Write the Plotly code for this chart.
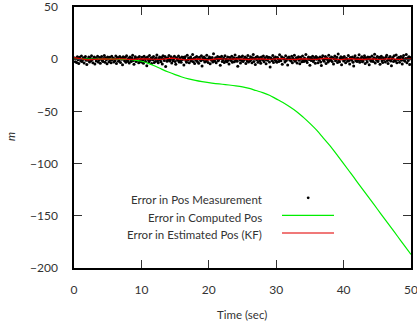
import plotly.graph_objects as go

# ---------------- data ----------------
meas_err = [
 1.2, -2.5, 0.8, -3.1, 2.4, -0.6, -4.2, 1.9, 0.3, -1.7, 3.1, -2.2, -0.4, 1.5, -3.6, 0.9, 2.7, -1.1, -5.0, 0.2,
 -0.9, 2.2, -2.8, 1.4, -1.5, 3.4, -0.2, -3.3, 0.6, 2.0, -4.6, 1.1, -1.8, 0.4, 2.9, -2.6, -0.7, 1.7, -3.9, 0.1,
 2.5, -1.3, -2.1, 0.7, 3.6, -3.0, 1.3, -0.5, -4.4, 2.1, 0.5, -2.4, 1.8, -1.0, -3.5, 2.8, -0.3, 1.0, -2.7, 0.4,
 -1.6, 3.0, -4.1, 0.8, 1.6, -2.0, -0.8, 2.6, -3.2, 1.2, -0.1, -5.3, 2.3, 0.6, -1.4, 1.9, -2.9, 3.3, -0.6, -1.9,
 0.9, -3.7, 2.0, -0.4, -2.3, 1.5, 3.8, -1.2, -4.8, 0.3, 2.4, -2.1, 0.7, -0.9, 1.4, -3.4, 2.7, -1.5, 0.0, -2.6,
 1.8, -0.7, -3.8, 2.9, 0.5, -1.9, 1.1, -6.2, 2.2, -0.2, -2.8, 3.5, -1.1, 0.8, -4.0, 1.6, -0.5, 2.5, -3.1, 0.2,
 -2.2, 1.3, 4.1, -1.6, -3.3, 0.6, 2.1, -0.8, -2.5, 1.7, -4.5, 3.2, 0.1, -1.3, 2.6, -7.1, 0.9, -2.0, 1.4, -0.3,
 3.6, -1.8, -0.6, 2.3, -3.6, 1.0, -1.4, 0.4, 2.8, -2.3, -4.9, 1.5, 0.2, -0.9, 3.0, -2.7, 1.2, -1.6, -3.0, 2.0,
 -0.4, 1.8, -5.6, 0.7, 2.4, -1.2, -2.9, 3.9, -0.7, 1.1, -3.4, 0.3, 2.2, -1.7, -0.1, 4.4, -2.4, 0.9, -4.2, 1.6,
 -1.0, 2.7, -2.1, 0.5, -3.8, 1.9, 0.0, -1.5, 3.3, -6.5, 1.4, -0.8, 2.0, -2.6, 0.6, -1.9, 3.7, -0.3, -3.2, 1.0,
 2.1, -4.3, 0.8, -1.1, 1.6, -2.8, 5.2, -0.6, -2.0, 1.3, -3.5, 0.4, 2.6, -1.4, -0.2, 1.9, -5.8, 0.7, 2.9, -2.2,
 -0.5, 1.1, -3.1, 3.4, -1.8, 0.3, -2.4, 2.0, -0.9, -4.7, 1.7, 0.6, -1.3, 2.8, -3.0, 0.1, 1.5, -2.5, 4.0, -1.0,
 0.8, -2.0, -6.8, 1.2, 2.5, -0.7, -3.6, 1.8, -1.2, 3.1, -2.3, 0.5, -0.4, 2.2, -4.1, 1.0, -1.7, 3.6, -2.8, 0.2,
 -1.4, 2.4, -0.2, -3.3, 1.5, 4.6, -2.1, 0.7, -5.1, 1.9, -0.6, 2.7, -2.9, 0.0, 1.3, -1.6, -3.9, 2.1, 0.4, -0.8,
 3.0, -2.4, 1.1, -0.3, -4.4, 2.6, -1.0, 0.6, 1.8, -2.7, -7.4, 1.4, 0.3, -1.5, 3.5, -3.2, 0.9, -0.5, 2.2, -1.9,
 -3.0, 1.7, 0.2, -2.2, 4.2, -0.9, -1.6, 2.3, -4.8, 0.8, 1.2, -0.1, -2.6, 3.2, -1.3, 0.5, -5.5, 1.6, 2.0, -0.7,
 0.4, -1.8, 2.9, -3.4, 1.0, -0.4, 3.8, -2.0, -0.8, 1.5, -3.7, 0.6, 2.4, -1.1, -4.3, 1.9, 0.1, -2.5, 3.1, -0.6,
 -2.3, 1.2, -0.9, 4.5, -1.7, -3.1, 0.9, 2.1, -0.3, -5.9, 1.6, -1.2, 0.4, 2.8, -2.1, -0.5, 1.3, -3.8, 2.5, 0.0,
 1.5, -3.3, 0.7, -1.0, 2.2, -2.6, -6.0, 1.1, 3.3, -0.8, -1.9, 0.3, 2.6, -4.0, 1.4, -0.2, -2.8, 3.9, -1.4, 0.8,
 -0.6, 2.0, -2.2, 1.3, -4.6, 0.5, 3.0, -1.5, -0.1, 1.8, -3.1, 5.0, -1.1, -2.4, 0.9, 2.3, -5.2, 0.2, 1.6, -1.8,
 2.7, -0.4, -3.5, 1.0, 0.3, -2.0, 3.6, -1.3, -4.5, 1.7, 0.6, -0.9, 2.1, -2.9, -6.6, 1.2, 3.2, -1.6, 0.4, -2.3,
 1.1, -1.1, 4.3, -3.0, 0.7, -0.5, 2.4, -2.5, -1.4, 0.9, 3.4, -4.2, 1.5, -0.2, -2.7, 2.0, 0.1, -5.4, 1.8, -0.7,
 -1.9, 3.1, -0.3, -2.1, 1.4, 4.8, -3.6, 0.6, -1.0, 2.5, -2.2, 0.0, 1.9, -4.9, 0.8, 2.9, -1.5, -3.1, 1.3, -0.4,
 0.6, -2.6, 2.2, 3.7, -1.2, -4.0, 1.1, -0.6, 2.7, -1.8, -6.3, 0.5, 1.7, -2.3, 3.3, -0.9, -1.7, 4.1, -3.3, 0.9,
 -0.2, 1.9, -2.9, 0.3, 2.6, -1.1, -4.7, 1.5, 3.5, -0.8, -2.0, 0.7, 4.6, -3.4, 1.2, -1.3, 2.3, -5.0, 0.4, 1.6,
]
meas_dt = 0.1

computed_err = [
 0.0, 0.0, 0.0, 0.0, 0.0, 0.0, 0.0, -0.1, -0.3, -0.8,
 -2.0, -4.0, -6.5, -9.5, -12.3, -14.8, -17.0, -18.8, -20.3, -21.5,
 -22.5, -23.3, -24.0, -24.7, -25.5, -26.5, -28.0, -30.0, -32.0, -34.5,
 -38.0, -41.5, -45.5, -50.0, -55.5, -61.5, -68.0, -75.5, -83.0, -91.5,
 -100.0, -108.7, -117.4, -126.1, -134.8, -143.5, -152.2, -160.9, -169.6, -178.3,
 -187.0,
]
computed_dt = 1.0

kf_err = [
 1.5, 1.0, 0.4, -0.3, -0.6, -0.4, -0.1, 0.2, 0.5, 0.3, 0.0, -0.2, 0.1, 0.4, 0.6, 0.3, -0.1, -0.4, -0.2, 0.2,
 0.5, 0.7, 0.4, 0.0, -0.3, -0.5, -0.2, 0.3, 0.8, 1.0, 0.6, 0.1, -0.3, -0.6, -0.4, 0.0, 0.4, 0.2, -0.1, -0.5,
 -0.7, -0.3, 0.2, 0.5, 0.3, 0.0, -0.2, 0.1, 0.3, 0.0, -0.4, -0.6, -0.3, 0.1, 0.4, 0.6, 0.3, -0.1, -0.3, 0.0,
 0.4, 0.7, 0.5, 0.1, -0.2, -0.5, -0.3, 0.2, 0.6, 0.4, 0.0, -0.3, -0.1, 0.3, 0.7, 0.9, 0.5, 0.1, -0.2, -0.4,
 -0.1, 0.3, 0.5, 0.2, -0.2, -0.5, -0.3, 0.1, 0.4, 0.2, -0.1, -0.3, 0.0, 0.4, 0.6, 0.3, -0.1, -0.4, -0.2, 0.1,
 0.3,
]
kf_dt = 0.5

legend_labels = ["Error in Pos Measurement", "Error in Computed Pos", "Error in Estimated Pos (KF)"]
x_ticks = [0, 10, 20, 30, 40, 50]
y_ticks = [50, 0, -50, -100, -150, -200]

# ---------------- figure ----------------
t_meas = [(i + 1) * meas_dt for i in range(len(meas_err))]
t_comp = [i * computed_dt for i in range(len(computed_err))]
t_kf = [i * kf_dt for i in range(len(kf_err))]

FONT = "Lato"
TXT = "#333333"

fig = go.Figure()
fig.add_trace(go.Scatter(x=t_meas, y=meas_err, mode="markers",
                         marker=dict(color="black", size=3.0), showlegend=False))
fig.add_trace(go.Scatter(x=t_comp, y=computed_err, mode="lines", line_shape="spline",
                         line=dict(color="#00ee00", width=1.2), showlegend=False))
fig.add_trace(go.Scatter(x=t_kf, y=kf_err, mode="lines",
                         line=dict(color="#e00000", width=1.3), showlegend=False))

L, R, T, B = 74, 6, 7, 53
W, H = 417, 321
pw, ph = W - L - R, H - T - B

def px(x):
    return (x - L) / pw

def py(y):
    return (H - B - y) / ph

# legend (drawn manually: text right-aligned, sample to the right)
text_x = px(264)
text_ys = [199.5, 217, 234.5]
for lab, yy in zip(legend_labels, text_ys):
    fig.add_annotation(x=text_x, y=py(yy), xref="paper", yref="paper", text=lab,
                       showarrow=False, xanchor="right", yanchor="middle",
                       font=dict(family=FONT, size=11.5, color=TXT))
fig.add_shape(type="circle", xref="paper", yref="paper",
              x0=px(306.8), x1=px(309.6), y0=py(199.2), y1=py(196.4),
              fillcolor="black", line=dict(width=0))
fig.add_shape(type="line", xref="paper", yref="paper",
              x0=px(282), x1=px(334), y0=py(215.3), y1=py(215.3),
              line=dict(color="#00ee00", width=1.2))
fig.add_shape(type="line", xref="paper", yref="paper",
              x0=px(282), x1=px(334), y0=py(233), y1=py(233),
              line=dict(color="#f07878", width=2))

fig.add_annotation(x=px(10), y=py(137), xref="paper", yref="paper", text="<i>m</i>",
                   showarrow=False, textangle=-90, xanchor="center", yanchor="middle",
                   font=dict(family=FONT, size=11.5, color=TXT))
fig.add_annotation(x=px(242), y=py(314), xref="paper", yref="paper", text="Time (sec)",
                   showarrow=False, xanchor="center", yanchor="middle",
                   font=dict(family=FONT, size=11.5, color=TXT))

axis_common = dict(showgrid=False, zeroline=False, showline=True, linecolor="black",
                   linewidth=1.5, ticks="inside", ticklen=8, tickwidth=1,
                   tickcolor="#333333", mirror="ticks", automargin=False,
                   ticklabeloverflow="allow",
                   tickfont=dict(family=FONT, size=12, color=TXT))
fig.update_xaxes(range=[0, 50], tickvals=x_ticks, ticklabelstandoff=10, **axis_common)
fig.update_yaxes(range=[-200, 50], tickvals=y_ticks, ticklabelstandoff=12, **axis_common)

fig.update_layout(width=W, height=H, margin=dict(l=L, r=R, t=T, b=B),
                  plot_bgcolor="white", paper_bgcolor="white", showlegend=False)

fig.write_html("out.html")
